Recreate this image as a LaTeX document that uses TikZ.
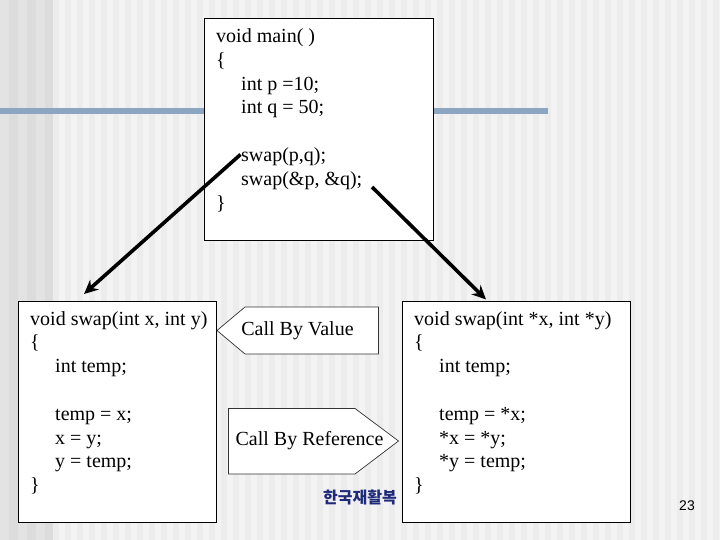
\documentclass[tikz,border=0pt]{standalone}
\usepackage{fontspec}
\setmainfont{Liberation Serif}
\newfontfamily\krfont{Noto Sans CJK KR}
\newfontfamily\numfont{Liberation Sans}
\usetikzlibrary{arrows.meta}
\definecolor{bgdark}{HTML}{DCDCDC}
\definecolor{bgdarkS}{HTML}{E3E3E3}
\definecolor{bglight}{HTML}{F3F3F3}
\definecolor{bglightS}{HTML}{ECECEC}
\definecolor{barblue}{HTML}{8CA6C2}
\definecolor{krnavy}{HTML}{1F2A7A}
\begin{document}
\begin{tikzpicture}[x=1pt,y=-1pt,
  codebox/.style={draw=black, line width=0.9pt, fill=white, inner sep=0pt, anchor=north west},
  code/.style={anchor=north west, inner sep=0pt, align=left, font=\fontsize{20}{23.8}\selectfont},
  callshape/.style={draw=black!80, line width=0.7pt, fill=white},
  calltext/.style={inner sep=0pt, font=\fontsize{20}{24}\selectfont},
  callarrow/.style={draw=black, line width=3.6pt, -{Stealth[length=14pt,width=13pt]}}
]
\useasboundingbox (0,0) rectangle (720,540);
% background
\fill[bglight] (0,0) rectangle (720,540);
\foreach \x in {53,65,...,720} { \fill[bglightS] (\x,0) rectangle ++(6,540); }
\fill[bgdark] (0,0) rectangle (53,540);
\foreach \x in {0,18,36} { \fill[bgdarkS] (\x,0) rectangle ++(9,540); }
\fill[barblue] (0,108) rectangle (548,114);

% boxes
\node[codebox, minimum width=229pt, minimum height=222pt] (main) at (204,18) {};
\node[codebox, minimum width=198pt, minimum height=221pt] (byval) at (18,301) {};
\node[codebox, minimum width=228pt, minimum height=221pt] (byref) at (402,301) {};

\node[code] (maintext) at (216,28.5) {void main( )\\ \{\\ \hspace*{25pt}int p =10;\\ \hspace*{25pt}int q = 50;\\ \mbox{}\\ \hspace*{25pt}swap(p,q);\\ \hspace*{25pt}swap(\&p, \&q);\\ \}};
\node[code] (valtext) at (30,311) {void swap(int x, int y)\\ \{\\ \hspace*{25pt}int temp;\\ \mbox{}\\ \hspace*{25pt}temp = x;\\ \hspace*{25pt}x = y;\\ \hspace*{25pt}y = temp;\\ \}};
\node[code] (reftext) at (414,311) {void swap(int *x, int *y)\\ \{\\ \hspace*{25pt}int temp;\\ \mbox{}\\ \hspace*{25pt}temp = *x;\\ \hspace*{25pt}*x = *y;\\ \hspace*{25pt}*y = temp;\\ \}};

% call labels
\draw[callshape] (217,330.5) -- (245,307) -- (378.5,307) -- (378.5,354) -- (245,354) -- cycle;
\node[calltext] (cbv) at (297.5,330.5) {Call By Value};
\draw[callshape] (228.5,408.5) -- (355,408.5) -- (398.5,441) -- (355,474) -- (228.5,474) -- cycle;
\node[calltext] (cbr) at (309.5,441) {Call By Reference};

\node[inner sep=0pt, text=krnavy, font=\krfont\bfseries\fontsize{16}{18}\selectfont] (kr) at (360,497.5) {한국재활복};
\node[inner sep=0pt, font=\numfont\fontsize{14}{16}\selectfont] (pg) at (687,505.5) {23};

% arrows
\coordinate (s1) at (240.5,154.5);
\coordinate (t1) at (84,294);
\coordinate (s2) at (372,187);
\coordinate (t2) at (486,299.5);
\draw[callarrow] (s1) -- (t1);
\draw[callarrow] (s2) -- (t2);
\end{tikzpicture}
\end{document}
